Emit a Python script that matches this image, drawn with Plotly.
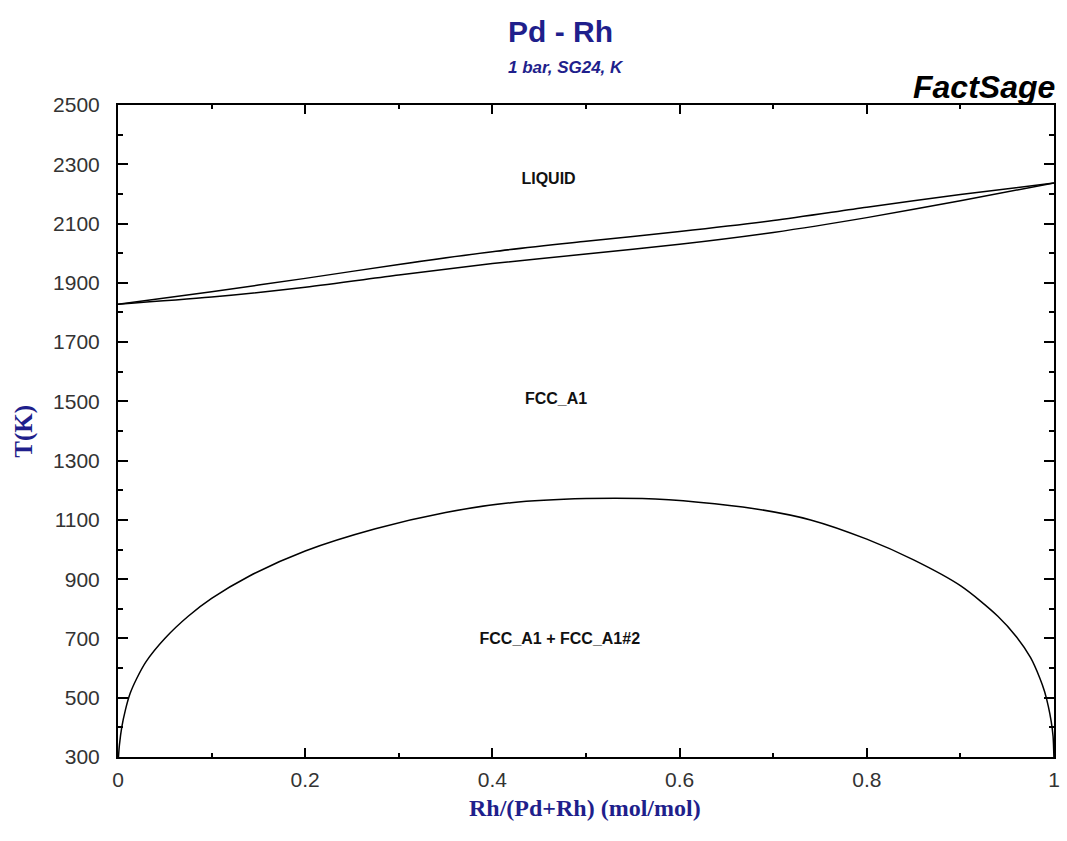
import plotly.graph_objects as go

# ---- data ----
liq_x = [0.0, 0.1, 0.2, 0.3, 0.4, 0.5, 0.6, 0.7, 0.8, 0.9, 1.0]
liquidus_T = [1828, 1870, 1915, 1962, 2005, 2040, 2073, 2110, 2155, 2198, 2237]
solidus_T = [1828, 1852, 1885, 1926, 1965, 1997, 2030, 2070, 2120, 2177, 2237]

gap_x = [0.0005, 0.0015, 0.004, 0.008, 0.013, 0.02, 0.03, 0.05, 0.075, 0.10,
         0.14, 0.20, 0.275, 0.35, 0.42, 0.50, 0.56, 0.62, 0.68, 0.74,
         0.80, 0.85, 0.90, 0.94, 0.96, 0.975, 0.985, 0.99, 0.994, 0.997,
         0.999, 0.9999]
gap_T = [300, 340, 400, 460, 515, 565, 622, 700, 775, 835,
         910, 995, 1070, 1125, 1158, 1172, 1172, 1160, 1138, 1100,
         1035, 965, 878, 775, 705, 635, 565, 520, 470, 420,
         370, 300]

phase_labels = ["LIQUID", "FCC_A1", "FCC_A1 + FCC_A1#2"]
phase_x = [0.46, 0.468, 0.472]
phase_T = [2247, 1505, 695]

title_text = "Pd - Rh"
subtitle_text = "1 bar, SG24, K"
x_title = "Rh/(Pd+Rh) (mol/mol)"
y_title = "T(K)"

NAVY = "#1f1f8c"
SANS = "Liberation Sans, Arial, sans-serif"
SERIF = "Liberation Serif, Times New Roman, serif"

fig = go.Figure()
line_style = dict(color="black", width=1.5, shape="spline", smoothing=0.8)
fig.add_trace(go.Scatter(x=liq_x, y=liquidus_T, mode="lines", line=line_style,
                         showlegend=False, hoverinfo="skip"))
fig.add_trace(go.Scatter(x=liq_x, y=solidus_T, mode="lines", line=line_style,
                         showlegend=False, hoverinfo="skip"))
fig.add_trace(go.Scatter(x=gap_x, y=gap_T, mode="lines", line=line_style,
                         showlegend=False, hoverinfo="skip"))

fig.add_trace(go.Scatter(x=phase_x, y=phase_T, mode="text",
                         text=[f"<b>{t}</b>" for t in phase_labels],
                         textfont=dict(family=SANS, size=16, color="#111111"),
                         textposition="middle center", showlegend=False, hoverinfo="skip"))

axis_common = dict(showgrid=False, zeroline=False, showline=True, linecolor="black",
                   linewidth=2, mirror="allticks", ticks="inside", tickcolor="black",
                   tickwidth=1.5, tickfont=dict(family=SANS, size=21, color="#333333"))

fig.update_xaxes(range=[0, 1], tick0=0, dtick=0.2, ticklen=9,
                 minor=dict(dtick=0.1, ticklen=4, ticks="inside", tickcolor="black", tickwidth=1.5),
                 ticklabelstandoff=3, **axis_common)
fig.update_yaxes(range=[300, 2500], tick0=300, dtick=200, ticklen=10,
                 minor=dict(dtick=100, ticklen=5, ticks="inside", tickcolor="black", tickwidth=1.5),
                 ticklabelstandoff=12, **axis_common)

annotations = [
    dict(text=f"<b>{title_text}</b>", x=0.473, y=1.113, xref="paper", yref="paper",
         xanchor="center", yanchor="middle", showarrow=False,
         font=dict(family=SANS, size=30, color=NAVY)),
    dict(text=f"<b><i>{subtitle_text}</i></b>", x=0.479, y=1.058, xref="paper", yref="paper",
         xanchor="center", yanchor="middle", showarrow=False,
         font=dict(family=SANS, size=17, color=NAVY)),
    dict(text="<b><i>FactSage</i></b>", x=1.003, y=1.027, xref="paper", yref="paper",
         xanchor="right", yanchor="middle", showarrow=False,
         font=dict(family=SANS, size=32, color="black")),
    dict(text=f"<b>{x_title}</b>", x=0.499, y=-0.078, xref="paper", yref="paper",
         xanchor="center", yanchor="middle", showarrow=False,
         font=dict(family=SERIF, size=24, color=NAVY)),
    dict(text=f"<b>{y_title}</b>", x=-0.1008, y=0.50, xref="paper", yref="paper",
         xanchor="center", yanchor="middle", showarrow=False, textangle=-90,
         font=dict(family=SERIF, size=25, color=NAVY)),
]

fig.update_layout(width=1067, height=841, margin=dict(l=118, r=7, t=105, b=84),
                  plot_bgcolor="white", paper_bgcolor="white", annotations=annotations)

fig.write_html("out.html")
